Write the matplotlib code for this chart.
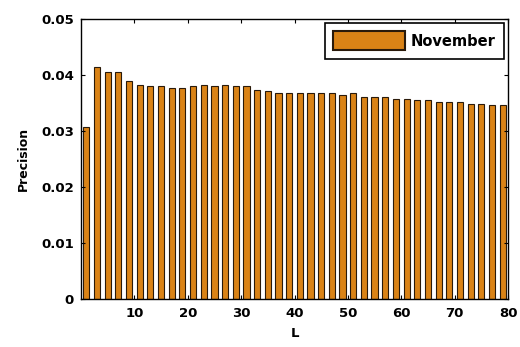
import matplotlib
matplotlib.use("Agg")
import matplotlib.pyplot as plt
from matplotlib.ticker import FixedLocator, FixedFormatter

plt.rcParams['font.family'] = ['DejaVu Sans']
plt.rcParams['font.weight'] = 'bold'

# L values and precision
L = list(range(1, 80, 2))
precision = [0.0307, 0.0414, 0.0406, 0.0406, 0.0390, 0.0383, 0.0380, 0.0380,
             0.0377, 0.0377, 0.0380, 0.0383, 0.0380, 0.0383, 0.0380, 0.0380,
             0.0374, 0.0371, 0.0367, 0.0367, 0.0367, 0.0367, 0.0367, 0.0367,
             0.0364, 0.0367, 0.0361, 0.0361, 0.0361, 0.0358, 0.0358, 0.0355,
             0.0355, 0.0352, 0.0352, 0.0352, 0.0349, 0.0349, 0.0346, 0.0346]
xticks = [10, 20, 30, 40, 50, 60, 70, 80]
yticks = [0, 0.01, 0.02, 0.03, 0.04, 0.05]
ytick_labels = ['0', '0.01', '0.02', '0.03', '0.04', '0.05']

fig = plt.figure(figsize=(5.2, 3.47), dpi=100)
ax = fig.add_axes([81/520, 1 - 299/347, 427/520, 280/347])

ax.bar(L, precision, width=1.15, color='#DA8316', edgecolor='#2a1a0a',
       linewidth=0.8, label='November')

ax.set_xlim(0, 80)
ax.set_ylim(0, 0.05)
ax.xaxis.set_major_locator(FixedLocator(xticks))
ax.yaxis.set_major_locator(FixedLocator(yticks))
ax.yaxis.set_major_formatter(FixedFormatter(ytick_labels))
ax.tick_params(direction='in', top=True, right=True, length=3, width=0.8,
               labelsize=9.5)
ax.tick_params(axis='x', pad=6)
ax.tick_params(axis='y', pad=5)
for lab in ax.get_xticklabels() + ax.get_yticklabels():
    lab.set_fontweight('bold')
for s in ax.spines.values():
    s.set_linewidth(1.0)

ax.set_xlabel('L', fontsize=9.5, fontweight='bold', labelpad=5)
ax.set_ylabel('Precision', fontsize=9, fontweight='bold', labelpad=8)

leg = ax.legend(loc='upper right', bbox_to_anchor=(1.0, 1.0),
                fontsize=10.5, handlelength=4.9,
                handleheight=1.6, fancybox=False, framealpha=1,
                edgecolor='black', borderaxespad=0.25, borderpad=0.6,
                handletextpad=0.4)
leg.get_frame().set_linewidth(1.2)
for t in leg.get_texts():
    t.set_fontweight('bold')
for h in leg.legend_handles:
    h.set_linewidth(1.5)

fig.savefig('out.png', dpi=100)
